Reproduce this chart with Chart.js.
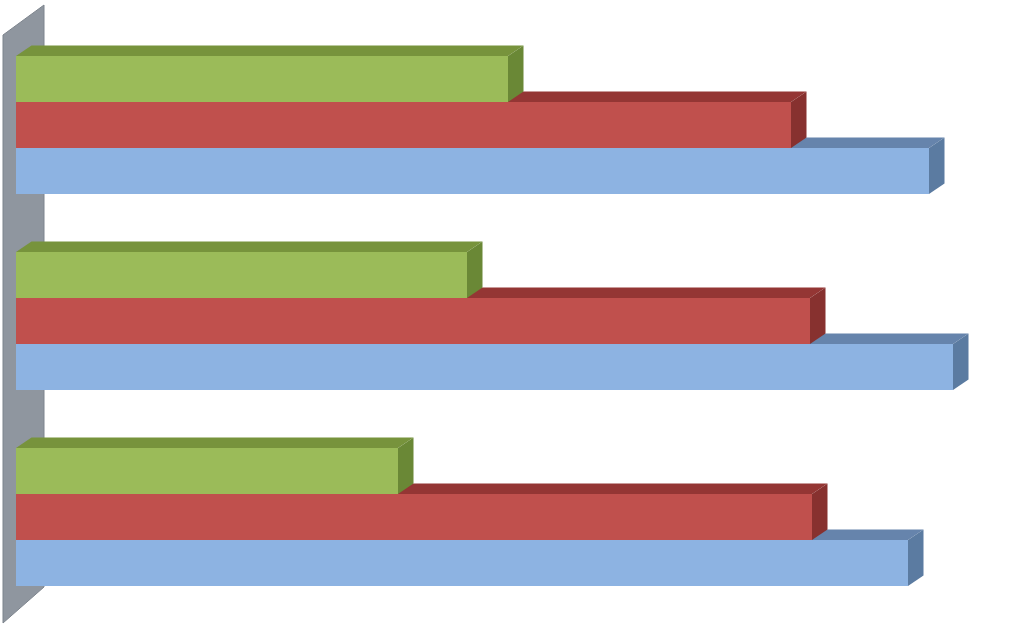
<!DOCTYPE html>
<html>
<head>
<meta charset="utf-8">
<script src="https://cdn.jsdelivr.net/npm/chart.js@4"></script>
<style>
html,body{margin:0;padding:0;background:#fff;}
#wrap{width:1024px;height:628px;}
</style>
</head>
<body>
<div id="wrap"><canvas id="c" width="1024" height="628"></canvas></div>
<script>
const categories = ['Group 1', 'Group 2', 'Group 3'];
const seriesNames = ['Series 3', 'Series 2', 'Series 1'];
const greenValues = [492, 451, 382];
const redValues = [775, 794, 796];
const blueValues = [913, 937, 892];

const frontColors = ['#9BBB59', '#C0504D', '#8DB3E2'];
const topColors = ['#77933C', '#943634', '#6684AC'];
const sideColors = ['#6A8836', '#87312F', '#5B7BA1'];

const DX = 15.5, DY = -10.5;

const threeD = {
  id: 'threeD',
  beforeDatasetsDraw(chart) {
    const ctx = chart.ctx;
    const a = chart.chartArea;
    // side wall
    ctx.save();
    ctx.beginPath();
    ctx.moveTo(a.left - 13, a.top + 8);
    ctx.lineTo(a.left + 28, a.top - 22);
    ctx.lineTo(a.left + 28, a.bottom - 28);
    ctx.lineTo(a.left - 13, a.bottom + 8);
    ctx.closePath();
    ctx.fillStyle = '#8F969F';
    ctx.fill();
    ctx.strokeStyle = '#7D848D';
    ctx.lineWidth = 1;
    ctx.stroke();
    // faces, bottom dataset first
    for (let d = chart.data.datasets.length - 1; d >= 0; d--) {
      const meta = chart.getDatasetMeta(d);
      meta.data.forEach(el => {
        const p = el.getProps(['x', 'y', 'base', 'height'], true);
        const t = p.y - p.height / 2, b = p.y + p.height / 2;
        ctx.beginPath();
        ctx.moveTo(p.base, t);
        ctx.lineTo(p.x, t);
        ctx.lineTo(p.x + DX, t + DY);
        ctx.lineTo(p.base + DX, t + DY);
        ctx.closePath();
        ctx.fillStyle = topColors[d];
        ctx.fill();
        ctx.beginPath();
        ctx.moveTo(p.x, t);
        ctx.lineTo(p.x + DX, t + DY);
        ctx.lineTo(p.x + DX, b + DY);
        ctx.lineTo(p.x, b);
        ctx.closePath();
        ctx.fillStyle = sideColors[d];
        ctx.fill();
      });
    }
    ctx.restore();
  }
};

new Chart(document.getElementById('c'), {
  type: 'bar',
  data: {
    labels: categories,
    datasets: [
      { label: seriesNames[0], data: greenValues, backgroundColor: frontColors[0] },
      { label: seriesNames[1], data: redValues, backgroundColor: frontColors[1] },
      { label: seriesNames[2], data: blueValues, backgroundColor: frontColors[2] }
    ]
  },
  options: {
    indexAxis: 'y',
    responsive: false,
    animation: false,
    layout: { padding: { left: 16, right: 8, top: 27, bottom: 13 } },
    datasets: { bar: { categoryPercentage: 0.704, barPercentage: 1.0, borderWidth: 0 } },
    scales: {
      x: { display: false, min: 0, max: 1000 },
      y: { display: false }
    },
    plugins: { legend: { display: false }, tooltip: { enabled: false } }
  },
  plugins: [threeD]
});
</script>
</body>
</html>
